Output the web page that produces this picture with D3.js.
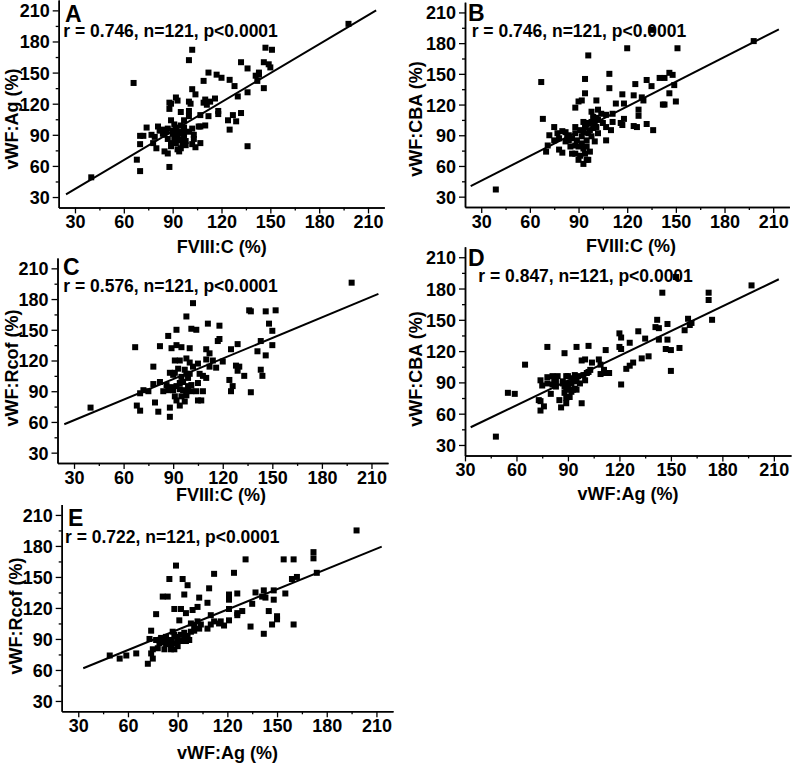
<!DOCTYPE html>
<html><head><meta charset="utf-8">
<script src="https://cdn.jsdelivr.net/npm/d3@7"></script>
<style>
body{margin:0;background:#fff}
svg{display:block}
text{font-family:"Liberation Sans",Arial,sans-serif;font-weight:bold;fill:#000}
</style>
</head><body>
<svg id="c" width="792" height="767"></svg>
<script>
// ---- tick labels ----
const majorTicks = [30, 60, 90, 120, 150, 180, 210];
const minorTicks = [45, 75, 105, 135, 165, 195];

// ---- panel texts ----
const panelLetters = ["A", "B", "C", "D", "E"];
const statTexts = [
  "r = 0.746, n=121, p<0.0001",
  "r = 0.746, n=121, p<0.0001",
  "r = 0.576, n=121, p<0.0001",
  "r = 0.847, n=121, p<0.0001",
  "r = 0.722, n=121, p<0.0001"
];
const xTitles = ["FVIII:C (%)", "FVIII:C (%)", "FVIII:C (%)", "vWF:Ag (%)", "vWF:Ag (%)"];
const yTitles = ["vWF:Ag (%)", "vWF:CBA (%)", "vWF:Rcof (%)", "vWF:CBA (%)", "vWF:Rcof (%)"];

// ---- data: [x, y] ----
const dataA = [[40,49],[198,197],[66,140],[102,172],[100,162],[147,174],[151,172],[132,160],[146,160],[149,158],[150,155],[136,154],[112,150],[117,148],[120,145],[125,143],[109,142],[143,150],[141,147],[143,148],[142,142],[146,135],[136,131],[128,137],[130,127],[102,134],[104,129],[92,126],[93,123],[100,122],[101,120],[110,124],[116,125],[111,119],[109,121],[113,122],[88,121],[89,120],[88,115],[95,112],[100,113],[118,113],[118,110],[107,109],[112,108],[124,104],[127,109],[132,111],[129,103],[125,95],[136,79],[107,98],[110,99],[100,108],
[74,97],[70,89],[72,89],[70,81],[68,66],[70,55],[88,59],[77,90],[78,82],[80,77],[81,98],[82,94],[79,88],[84,95],[85,74],[87,72],[87,96],[89,104],[90,91],[91,87],[89,79],[89,82],[92,97],[92,85],[93,76],[94,74],[95,77],[96,93],[95,99],[97,97],[98,84],[95,85],[96,81],[97,89],[102,96],[103,86],[102,81],[100,93],[104,78],[107,82],[106,98],[103,90],[97,104],[93,93],[92,89],[86,93],[87,86],[84,91],[85,90],[90,94],[91,100],[93,88],[94,91],[92,82],[97,93],[98,80]];

const dataB = [[198,182],[39,37],[67,142],[68,106],[96,168],[120,175],[151,175],[94,145],[109,150],[117,130],[109,136],[94,131],[101,124],[92,124],[90,123],[88,117],[113,121],[118,121],[124,129],[125,140],[130,124],[129,127],[132,144],[135,138],[140,146],[143,146],[146,151],[148,149],[146,131],[149,139],[150,123],[143,120],[142,120],[127,115],[127,109],[124,99],[126,98],[132,101],[136,95],[116,102],[118,106],[117,100],[111,111],[107,110],[104,111],[102,115],[98,113],[101,107],[107,98],[107,85],[110,95],[111,103],[100,102],[95,102],[93,103],[135,193],
[72,90],[71,80],[70,74],[75,98],[77,92],[78,87],[78,76],[80,73],[80,94],[82,93],[83,89],[84,90],[86,87],[86,72],[88,72],[88,98],[88,92],[89,85],[90,79],[90,66],[91,70],[93,62],[94,72],[95,66],[96,66],[97,74],[92,82],[92,89],[93,93],[94,98],[95,85],[96,92],[97,95],[98,89],[99,97],[100,84],[101,98],[102,92],[91,95],[84,85],[82,84],[75,85],[88,80],[85,79],[93,77],[95,79],[98,103],[99,108],[102,105],[105,102]];

const dataC = [[198,196],[40,74],[67,133],[102,176],[98,163],[101,151],[104,150],[92,150],[87,144],[111,156],[118,154],[82,134],[89,132],[92,135],[95,133],[100,132],[110,131],[112,127],[117,139],[118,141],[125,131],[129,136],[136,169],[137,168],[146,168],[152,169],[148,156],[150,149],[150,135],[143,139],[141,129],[146,125],[143,111],[144,105],[137,89],[125,90],[126,95],[124,101],[128,115],[129,110],[130,114],[133,105],[110,103],[108,105],[106,107],[112,114],[116,113],[120,119],[114,120],[110,121],[108,90],[104,90],[105,98],[101,96],[102,114],[105,117],[91,120],[94,120],[98,122],[100,118],
[88,108],[90,106],[91,108],[93,112],[95,104],[97,111],[98,107],[99,103],[100,107],[96,99],[94,98],[92,95],[90,91],[87,91],[84,90],[82,99],[78,97],[78,114],[75,90],[72,91],[70,88],[68,76],[70,71],[79,79],[81,70],[88,74],[88,65],[94,76],[92,81],[91,85],[95,85],[97,80],[98,86],[98,90],[101,90],[107,81],[94,92],[96,91],[86,96],[89,94],[105,81],[99,95]];

const dataD = [[197,183],[48,38],[55,80],[59,79],[65,107],[78,124],[88,118],[95,124],[102,125],[98,111],[100,112],[108,112],[112,121],[109,107],[109,98],[112,99],[114,99],[111,102],[103,102],[104,109],[120,137],[121,133],[120,124],[121,122],[126,128],[124,103],[126,106],[128,109],[121,88],[131,139],[135,132],[133,113],[137,115],[145,176],[142,150],[141,143],[143,142],[143,131],[148,146],[148,131],[147,122],[150,121],[155,123],[150,101],[160,151],[158,140],[161,145],[162,147],[172,176],[172,169],[174,150],[153,191],
[74,92],[73,73],[74,72],[74,63],[76,67],[75,87],[78,95],[78,89],[80,79],[81,96],[82,91],[83,86],[85,73],[86,66],[87,89],[87,91],[88,80],[89,70],[89,75],[88,86],[90,96],[90,84],[91,76],[92,89],[93,94],[94,84],[95,91],[96,96],[97,89],[98,70],[99,97],[100,92],[101,99],[102,100],[89,83],[92,81],[93,83],[95,83],[84,96],[83,91],[81,88],[90,89],[94,97],[89,96]];

const dataE = [[198,195],[49,74],[55,71],[59,74],[65,76],[72,66],[74,98],[73,90],[74,76],[75,80],[75,71],[77,114],[77,89],[78,81],[80,91],[81,131],[81,87],[82,80],[83,92],[84,131],[85,148],[86,80],[86,89],[87,97],[88,80],[89,161],[88,119],[89,86],[89,92],[90,83],[91,108],[92,119],[93,148],[94,96],[94,133],[95,115],[96,142],[95,88],[97,89],[98,105],[99,118],[100,98],[100,103],[102,121],[102,107],[103,130],[103,100],[104,104],[108,125],[108,100],[109,139],[110,113],[110,104],[112,153],[112,107],[115,105],[116,107],[118,103],[121,119],[121,133],[121,128],[121,108],[124,154],[126,115],[126,134],[126,113],[129,117],[131,167],[134,102],[135,124],[137,135],[141,131],[142,137],[142,95],[143,130],[145,117],[147,104],[148,128],[148,137],[150,112],[150,109],[154,167],[155,134],[159,148],[160,167],[160,104],[162,150],[172,174],[172,168],[174,154],
[84,88],[86,84],[90,90],[92,94],[94,91],[96,93],[98,97],[88,94],[92,88],[79,86],[83,85]];

// ---- regression lines (data coordinates of end points) ----
const lineA = [[24.5,32.5],[215,210]];
const lineB = [[23.5,40.4],[213.5,193.5]];
const lineC = [[24.1,57.7],[214.2,185]];
const lineD = [[33.3,47],[212.9,188.9]];
const lineE = [[33,61.7],[213.2,179.4]];

const datasets = [dataA, dataB, dataC, dataD, dataE];
const lines = [lineA, lineB, lineC, lineD, lineE];

// ---- layout (pixels) ----
const layout = [
  {xDom:[20,220], yDom:[20,220], xr:[58.7,384.3], yr:[207.4,0],   letter:[65,21.7],  stat:[63.3,37.3],  xt:[221.7,253],  yt:[18,119]},
  {xDom:[20,220], yDom:[20,220], xr:[465,789.4],  yr:[206.9,2.2], letter:[468,20.5], stat:[471.7,37.3], xt:[631,252.3],  yt:[422,119]},
  {xDom:[20,220], yDom:[20,220], xr:[57.5,388],   yr:[462.9,258.1],letter:[63,275],  stat:[63.3,291.7], xt:[221,500.7],  yt:[18,368]},
  {xDom:[30,220], yDom:[20,220], xr:[465,791],    yr:[455.4,246.8],letter:[468,265.5],stat:[478.3,281.7],xt:[628,499.5], yt:[422,369]},
  {xDom:[20,220], yDom:[20,220], xr:[61.7,393],   yr:[711.3,504.6],letter:[68,525.7],stat:[65,543.3],  xt:[227.5,759],  yt:[22,616]}
];

const svg = d3.select("#c");

layout.forEach((L, i) => {
  const x = d3.scaleLinear().domain(L.xDom).range(L.xr);
  const y = d3.scaleLinear().domain(L.yDom).range(L.yr);
  const g = svg.append("g");

  // axes: major
  const xAx = g.append("g").attr("transform", `translate(0,${L.yr[0]})`)
    .call(d3.axisBottom(x).tickValues(majorTicks).tickSize(6).tickPadding(2).tickSizeOuter(0));
  const xMin = g.append("g").attr("transform", `translate(0,${L.yr[0]})`)
    .call(d3.axisBottom(x).tickValues(minorTicks).tickSize(3).tickFormat("").tickSizeOuter(0));
  const yAx = g.append("g").attr("transform", `translate(${L.xr[0]},0)`)
    .call(d3.axisLeft(y).tickValues(majorTicks).tickSize(6).tickPadding(3).tickSizeOuter(0));
  const yMin = g.append("g").attr("transform", `translate(${L.xr[0]},0)`)
    .call(d3.axisLeft(y).tickValues(minorTicks).tickSize(3).tickFormat("").tickSizeOuter(0));
  [xAx, xMin, yAx, yMin].forEach(a => {
    a.selectAll("path.domain").attr("stroke", "#000").attr("stroke-width", 1.5);
    a.selectAll(".tick line").attr("stroke", "#000").attr("stroke-width", 1.3);
    a.selectAll(".tick text").style("font-size", "18px").style("font-weight", "bold")
      .style("font-family", '"Liberation Sans",Arial,sans-serif').attr("fill", "#000");
  });
  yAx.selectAll(".tick text").attr("dy", "0.36em");

  // titles
  g.append("text").attr("x", L.xt[0]).attr("y", L.xt[1]).attr("text-anchor", "middle")
    .style("font-size", "18px").text(xTitles[i]);
  g.append("text").attr("transform", `translate(${L.yt[0]},${L.yt[1]}) rotate(-90)`)
    .attr("text-anchor", "middle").style("font-size", "18px").text(yTitles[i]);

  // panel letter + statistics
  g.append("text").attr("x", L.letter[0]).attr("y", L.letter[1]).style("font-size", "23px").text(panelLetters[i]);
  g.append("text").attr("x", L.stat[0]).attr("y", L.stat[1]).style("font-size", "17.5px").text(statTexts[i]);

  // regression line
  const ln = d3.line().x(d => x(d[0])).y(d => y(d[1]));
  g.append("path").datum(lines[i]).attr("d", ln).attr("fill", "none").attr("stroke", "#000").attr("stroke-width", 2);

  // points
  const s = 6;
  g.append("g").selectAll("rect").data(datasets[i]).join("rect")
    .attr("x", d => x(d[0]) - s / 2).attr("y", d => y(d[1]) - s / 2)
    .attr("width", s).attr("height", s).attr("fill", "#000");
});
</script>
</body></html>
